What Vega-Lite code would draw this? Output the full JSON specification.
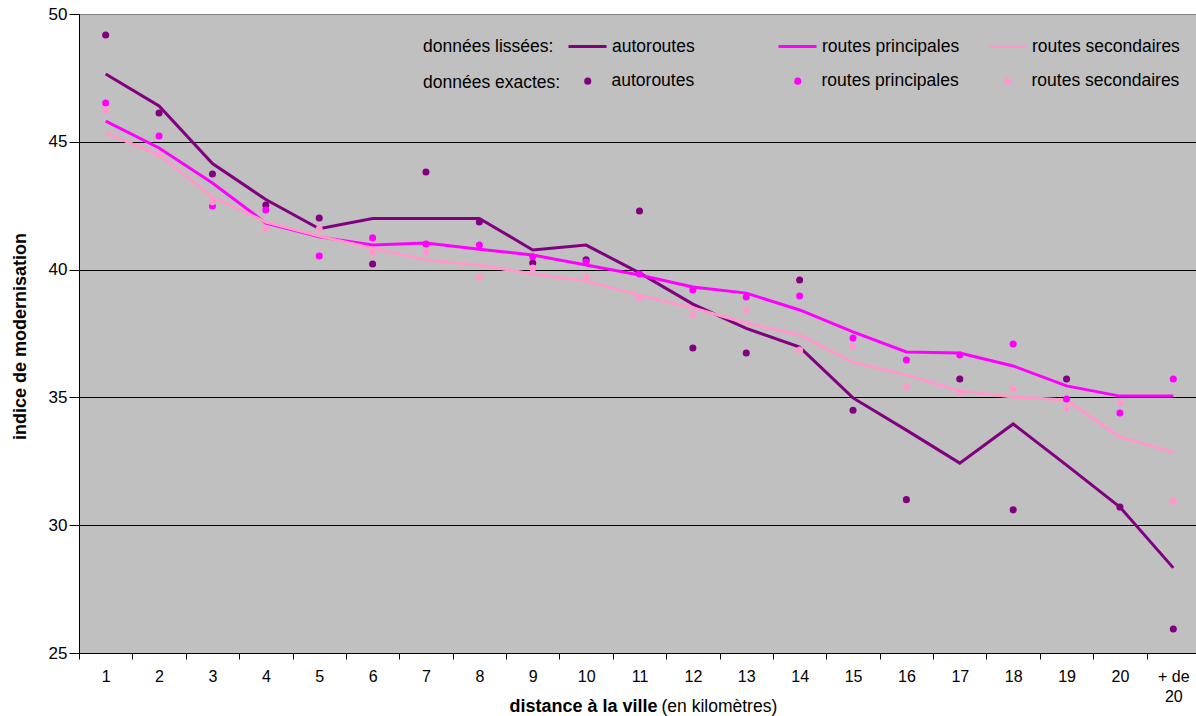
{
  "$schema": "https://vega.github.io/schema/vega-lite/v6.json",
  "width": 1117,
  "height": 639,
  "autosize": {"type": "none"},
  "padding": {"left": 79, "top": 14, "right": 0, "bottom": 63},
  "background": "white",
  "config": {
    "font": "Liberation Sans",
    "view": {"fill": "#C0C0C0", "stroke": "#808080", "strokeWidth": 1},
    "axis": {"labelColor": "black", "titleColor": "black", "domainColor": "black", "tickColor": "black", "labelFont": "Liberation Sans", "titleFont": "Liberation Sans"},
    "legend": {"labelFont": "Liberation Sans", "titleFont": "Liberation Sans", "labelColor": "black", "titleColor": "black"}
  },
  "data": {
    "values": [
      {"d": "1", "serie": "autoroutes", "lisse": 47.65, "exact": 49.18},
      {"d": "2", "serie": "autoroutes", "lisse": 46.4, "exact": 46.13},
      {"d": "3", "serie": "autoroutes", "lisse": 44.15, "exact": 43.74},
      {"d": "4", "serie": "autoroutes", "lisse": 42.74, "exact": 42.53},
      {"d": "5", "serie": "autoroutes", "lisse": 41.6, "exact": 42.02},
      {"d": "6", "serie": "autoroutes", "lisse": 42.0, "exact": 40.22},
      {"d": "7", "serie": "autoroutes", "lisse": 42.0, "exact": 43.82},
      {"d": "8", "serie": "autoroutes", "lisse": 42.0, "exact": 41.86},
      {"d": "9", "serie": "autoroutes", "lisse": 40.77, "exact": 40.26},
      {"d": "10", "serie": "autoroutes", "lisse": 40.96, "exact": 40.38},
      {"d": "11", "serie": "autoroutes", "lisse": 39.87, "exact": 42.29},
      {"d": "12", "serie": "autoroutes", "lisse": 38.65, "exact": 36.93},
      {"d": "13", "serie": "autoroutes", "lisse": 37.7, "exact": 36.74},
      {"d": "14", "serie": "autoroutes", "lisse": 36.97, "exact": 39.59},
      {"d": "15", "serie": "autoroutes", "lisse": 34.98, "exact": 34.5},
      {"d": "16", "serie": "autoroutes", "lisse": 33.72, "exact": 31.0},
      {"d": "17", "serie": "autoroutes", "lisse": 32.43, "exact": 35.72},
      {"d": "18", "serie": "autoroutes", "lisse": 33.96, "exact": 30.6},
      {"d": "19", "serie": "autoroutes", "lisse": 32.35, "exact": 35.72},
      {"d": "20", "serie": "autoroutes", "lisse": 30.71, "exact": 30.71},
      {"d": "+ de 20", "serie": "autoroutes", "lisse": 28.33, "exact": 25.94},
      {"d": "1", "serie": "routes principales", "lisse": 45.81, "exact": 46.52},
      {"d": "2", "serie": "routes principales", "lisse": 44.76, "exact": 45.23},
      {"d": "3", "serie": "routes principales", "lisse": 43.39, "exact": 42.49},
      {"d": "4", "serie": "routes principales", "lisse": 41.82, "exact": 42.33},
      {"d": "5", "serie": "routes principales", "lisse": 41.28, "exact": 40.53},
      {"d": "6", "serie": "routes principales", "lisse": 40.96, "exact": 41.24},
      {"d": "7", "serie": "routes principales", "lisse": 41.04, "exact": 41.0},
      {"d": "8", "serie": "routes principales", "lisse": 40.8, "exact": 40.96},
      {"d": "9", "serie": "routes principales", "lisse": 40.57, "exact": 40.5},
      {"d": "10", "serie": "routes principales", "lisse": 40.18, "exact": 40.3},
      {"d": "11", "serie": "routes principales", "lisse": 39.79, "exact": 39.83},
      {"d": "12", "serie": "routes principales", "lisse": 39.32, "exact": 39.2},
      {"d": "13", "serie": "routes principales", "lisse": 39.08, "exact": 38.93},
      {"d": "14", "serie": "routes principales", "lisse": 38.42, "exact": 38.97},
      {"d": "15", "serie": "routes principales", "lisse": 37.56, "exact": 37.32},
      {"d": "16", "serie": "routes principales", "lisse": 36.78, "exact": 36.46},
      {"d": "17", "serie": "routes principales", "lisse": 36.74, "exact": 36.66},
      {"d": "18", "serie": "routes principales", "lisse": 36.23, "exact": 37.09},
      {"d": "19", "serie": "routes principales", "lisse": 35.45, "exact": 34.94},
      {"d": "20", "serie": "routes principales", "lisse": 35.05, "exact": 34.39},
      {"d": "+ de 20", "serie": "routes principales", "lisse": 35.05, "exact": 35.72},
      {"d": "1", "serie": "routes secondaires", "lisse": 45.35, "exact": 46.24},
      {"d": "2", "serie": "routes secondaires", "lisse": 44.48, "exact": 44.5},
      {"d": "3", "serie": "routes secondaires", "lisse": 42.84, "exact": 42.65},
      {"d": "4", "serie": "routes secondaires", "lisse": 41.86, "exact": 41.59},
      {"d": "5", "serie": "routes secondaires", "lisse": 41.31, "exact": 41.59},
      {"d": "6", "serie": "routes secondaires", "lisse": 40.84, "exact": 40.65},
      {"d": "7", "serie": "routes secondaires", "lisse": 40.38, "exact": 40.69},
      {"d": "8", "serie": "routes secondaires", "lisse": 40.18, "exact": 39.71},
      {"d": "9", "serie": "routes secondaires", "lisse": 39.83, "exact": 40.06},
      {"d": "10", "serie": "routes secondaires", "lisse": 39.55, "exact": 39.7},
      {"d": "11", "serie": "routes secondaires", "lisse": 39.0, "exact": 38.89},
      {"d": "12", "serie": "routes secondaires", "lisse": 38.5, "exact": 38.22},
      {"d": "13", "serie": "routes secondaires", "lisse": 37.91, "exact": 38.42},
      {"d": "14", "serie": "routes secondaires", "lisse": 37.44, "exact": 36.85},
      {"d": "15", "serie": "routes secondaires", "lisse": 36.38, "exact": 37.0},
      {"d": "16", "serie": "routes secondaires", "lisse": 35.88, "exact": 35.41},
      {"d": "17", "serie": "routes secondaires", "lisse": 35.25, "exact": 35.17},
      {"d": "18", "serie": "routes secondaires", "lisse": 35.02, "exact": 35.33},
      {"d": "19", "serie": "routes secondaires", "lisse": 34.9, "exact": 34.59},
      {"d": "20", "serie": "routes secondaires", "lisse": 33.45, "exact": 34.78},
      {"d": "+ de 20", "serie": "routes secondaires", "lisse": 32.86, "exact": 30.95}
    ]
  },
  "layer": [
    {
      "mark": {"type": "line"},
      "encoding": {
        "x": {
          "field": "d", "type": "ordinal",
          "sort": ["1","2","3","4","5","6","7","8","9","10","11","12","13","14","15","16","17","18","19","20","+ de 20"],
          "scale": {"type": "band", "range": [0, 1121], "paddingInner": 0, "paddingOuter": 0},
          "axis": {
            "orient": "bottom", "labelAngle": 0, "labelFontSize": 16, "labelPadding": 9, "tickSize": 6, "tickBand": "extent",
            "labelExpr": "datum.value == '+ de 20' ? ['+ de', '20'] : datum.label", "labelLineHeight": 20,
            "title": "distance à la ville", "titleFontSize": 18, "titleFontWeight": "bold",
            "titleX": 430, "titleY": 58, "titleAlign": "left", "titleBaseline": "alphabetic", "grid": false
          }
        },
        "y": {
          "field": "lisse", "type": "quantitative",
          "scale": {"domain": [25, 50], "nice": false, "zero": false},
          "axis": {
            "values": [25, 30, 35, 40, 45, 50], "tickSize": 10, "labelPadding": 2, "labelFontSize": 17,
            "grid": true, "gridColor": {"condition": {"test": "datum.value === 50", "value": "#808080"}, "value": "black"}, "gridOpacity": 1, "gridWidth": 1,
            "title": "indice de modernisation", "titleFontSize": 18, "titleFontWeight": "bold",
            "titleX": -54, "titleY": 322, "titleAngle": 270, "titleAlign": "center", "titleBaseline": "alphabetic"
          }
        },
        "stroke": {
          "field": "serie", "type": "nominal",
          "scale": {"domain": ["autoroutes", "routes principales", "routes secondaires"], "range": ["#800080", "#FF00FF", "#FF99CC"]},
          "legend": {
            "title": "données lissées:", "orient": "none", "legendX": 344, "legendY": 12,
            "direction": "horizontal", "columns": 3, "titleOrient": "left", "titleAnchor": "middle", "titleBaseline": "line-top", "titleLineHeight": 12, "gridAlign": "all",
            "symbolType": "stroke", "symbolSize": 1444, "symbolStrokeWidth": 3, "labelOffset": 4,
            "columnPadding": 12, "titlePadding": 13, "padding": 0,
            "labelFontSize": 17.5, "titleFontSize": 17.5, "titleFontWeight": "normal", "labelLimit": 0, "titleLimit": 0
          }
        },
        "strokeWidth": {
          "field": "serie", "type": "ordinal",
          "scale": {"domain": ["autoroutes", "routes principales", "routes secondaires"], "range": [3, 3, 2]},
          "legend": null
        }
      }
    },
    {
      "mark": {"type": "circle", "size": 50, "opacity": 1},
      "encoding": {
        "x": {
          "field": "d", "type": "ordinal",
          "sort": ["1","2","3","4","5","6","7","8","9","10","11","12","13","14","15","16","17","18","19","20","+ de 20"],
          "axis": {
            "orient": "bottom", "domain": false, "ticks": false, "labels": false, "grid": false,
            "title": "(en kilomètres)", "titleFontSize": 17.5, "titleFontWeight": "normal",
            "titleX": 582, "titleY": 58, "titleAlign": "left", "titleBaseline": "alphabetic"
          }
        },
        "y": {"field": "exact", "type": "quantitative"},
        "fill": {
          "field": "serie", "type": "nominal",
          "scale": {"range": ["#800080", "#FF00FF", "#FF99CC"]},
          "legend": {
            "title": "données exactes:", "orient": "none", "legendX": 344, "legendY": 58,
            "direction": "horizontal", "columns": 3, "titleOrient": "left", "titleAnchor": "middle", "titleBaseline": "line-top", "titleLineHeight": 4, "gridAlign": "all",
            "symbolType": "circle", "symbolSize": 50, "labelOffset": 15,
            "columnPadding": 29, "titlePadding": 18, "padding": 0,
            "labelFontSize": 17.5, "titleFontSize": 17.5, "titleFontWeight": "normal", "labelLimit": 0, "titleLimit": 0
          }
        }
      }
    }
  ],
  "resolve": {"axis": {"x": "independent"}}
}
